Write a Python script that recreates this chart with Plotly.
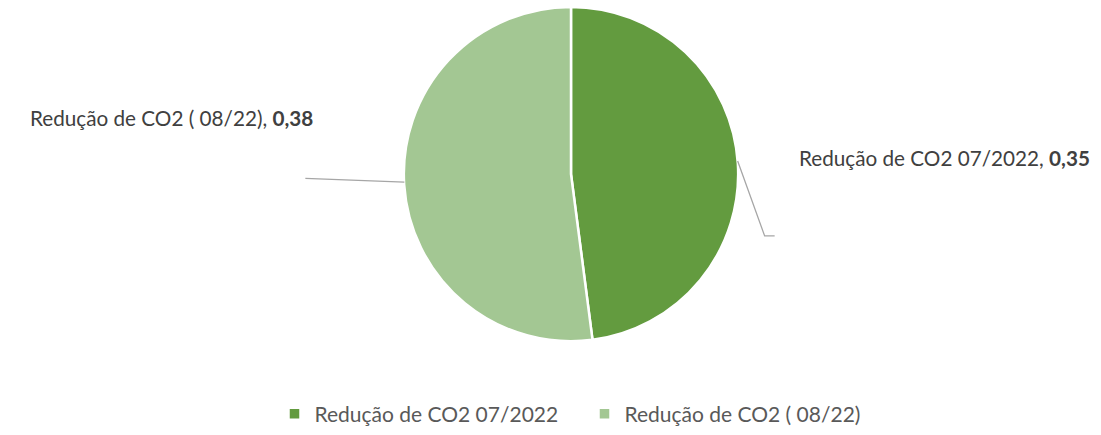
import math
import plotly.graph_objects as go

labels = ["Redução de CO2 07/2022", "Redução de CO2 ( 08/22)"]
values = [0.35, 0.38]
colors = ["#639B3F", "#A3C793"]

W, H = 1101, 435
cx, cy, r = 571, 174, 167  # pie placement in pixels
rd = r + 2.5               # domain half-size (plotly trims a little)
dy = 2.5                   # small vertical correction of the domain

fig = go.Figure(go.Pie(
    labels=labels, values=values, sort=False, direction="clockwise", rotation=0,
    marker=dict(colors=colors, line=dict(color="white", width=2.5)),
    textinfo="none", hoverinfo="label+value",
    domain=dict(x=[(cx - rd) / W, (cx + rd) / W],
                y=[1 - (cy + dy + rd) / H, 1 - (cy + dy - rd) / H]),
))

def fmt(v):
    return f"{v:.2f}".replace(".", ",")

total = sum(values)
start = 0.0
shapes, annotations = [], []
font = dict(family="Lato, Carlito, sans-serif", size=20.7, color="#404040")
for i, (lab, v) in enumerate(zip(labels, values)):
    mid = start + v / total * 360 / 2
    start += v / total * 360
    a = math.radians(mid)
    ex, ey = cx + r * math.sin(a), cy - r * math.cos(a)
    if math.sin(a) > 0:
        pts = [(ex, ey), (ex + 27, ey + 76), (ex + 37, ey + 76)]
        tx, ty, anchor = ex + 59, ey - 3, "left"
    else:
        pts = [(ex, ey), (ex - 99, ey - 4)]
        tx, ty, anchor = ex - 89, ey - 65, "right"
    path = "M " + " L ".join(f"{px / W},{1 - py / H}" for px, py in pts)
    shapes.append(dict(type="path", xref="paper", yref="paper", path=path,
                       line=dict(color="#A6A6A6", width=1.3)))
    annotations.append(dict(xref="paper", yref="paper", x=tx / W, y=1 - ty / H,
                            xanchor=anchor, yanchor="middle", showarrow=False,
                            text=f"{lab}, <b>{fmt(v)}</b>", font=font))

fig.update_layout(
    width=W, height=H, margin=dict(l=0, r=0, t=0, b=0),
    paper_bgcolor="white", plot_bgcolor="white",
    shapes=shapes, annotations=annotations,
    showlegend=True,
    legend=dict(orientation="h", x=0.5 + 34 / W, xanchor="center", y=1 - 420 / H, yanchor="middle",
                font=dict(family="Lato, Carlito, sans-serif", size=21, color="#595959"),
                itemwidth=30, tracegroupgap=0, entrywidth=265, entrywidthmode="pixels"),
)

fig.write_html("out.html", config={"displayModeBar": False},
               post_script="document.body.style.margin='0px';")
